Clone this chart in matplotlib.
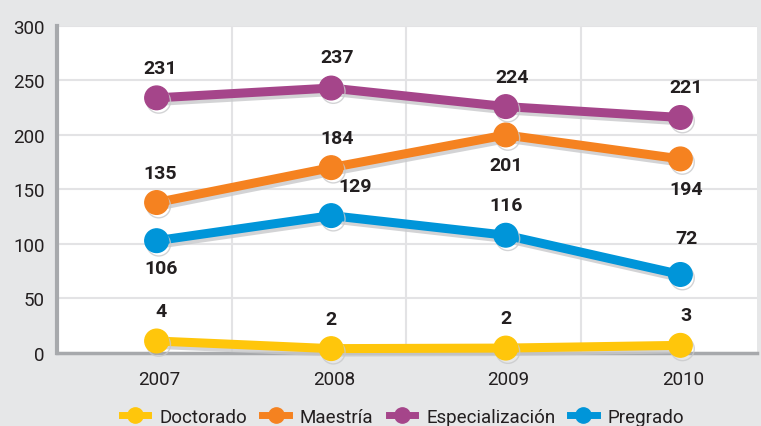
import matplotlib
matplotlib.use("Agg")
import matplotlib.pyplot as plt
import matplotlib.patheffects as pe
from matplotlib import font_manager
from matplotlib.lines import Line2D

names = {f.name for f in font_manager.fontManager.ttflist}
narrow = 'Liberation Sans Narrow' if 'Liberation Sans Narrow' in names else 'Roboto'
plt.rcParams['font.family'] = [narrow, 'DejaVu Sans']

years = ['2007', '2008', '2009', '2010']
series_names = ['Doctorado', 'Maestría', 'Especialización', 'Pregrado']
doctorado = [11, 4, 4.5, 7]
maestria = [138, 170, 200, 178]
especializacion = [234, 243, 226, 216]
pregrado = [103, 126, 108, 72]
doctorado_labels = ['4', '2', '2', '3']
maestria_labels = ['135', '184', '201', '194']
especializacion_labels = ['231', '237', '224', '221']
pregrado_labels = ['106', '129', '116', '72']
colors = ['#ffc60b', '#f58220', '#a5458a', '#0095d9']
yticks = [0, 50, 100, 150, 200, 250, 300]

# label offsets in pixels (dx, dy)
offsets = {
    'Doctorado': [(4, 30), (0, 30), (0, 30), (6, 30)],
    'Maestría': [(4, 30), (6, 30), (0, -30), (6, -30)],
    'Especialización': [(4, 30), (6, 31), (6, 30), (6, 30)],
    'Pregrado': [(4, -27), (24, 30), (0, 30), (6, 36)],
}

fig = plt.figure(figsize=(7.61, 4.27), dpi=100)
fig.patch.set_facecolor('#e6e7e8')
ax = fig.add_axes([0.075, 0.171, 0.92, 0.766])
ax.set_facecolor('white')

x = list(range(len(years)))
data = [doctorado, maestria, especializacion, pregrado]
labels = [doctorado_labels, maestria_labels, especializacion_labels, pregrado_labels]
shadow = [pe.SimpleLineShadow(offset=(1.5, -2.5), shadow_color='#c8c9cb', alpha=0.8), pe.Normal()]

for i in [3, 1, 2, 0]:
    ax.plot(x, data[i], color=colors[i], lw=6.5, marker='o', markersize=17,
            solid_capstyle='round', path_effects=shadow, zorder=3 + i * 0.1, clip_on=False)
    for j, (xv, yv) in enumerate(zip(x, data[i])):
        dx, dy = offsets[series_names[i]][j]
        ax.annotate(labels[i][j], (xv, yv), xytext=(dx, dy), textcoords='offset pixels',
                    ha='center', va='center', fontsize=14, fontweight='bold', color='#231f20', zorder=10)

ax.set_xlim(-0.57, 3.44)
ax.set_ylim(0, 300)
ax.set_yticks(yticks)
ax.set_yticklabels([str(v) for v in yticks], fontsize=13.5, color='#231f20')
ax.set_xticks([xv + 0.015 for xv in x])
ax.set_xticklabels(years, fontsize=13.5, color='#231f20')
ax.tick_params(length=0)
ax.tick_params(axis='y', pad=9)
ax.tick_params(axis='x', pad=12)
ax.set_xticks([0.43, 1.43, 2.43], minor=True)
ax.grid(True, axis='y', color='#e3e3e5', lw=1.5, zorder=0)
ax.grid(True, axis='x', which='minor', color='#e3e3e5', lw=1.5, zorder=0)
ax.tick_params(which='minor', length=0)
for s in ['top', 'right']:
    ax.spines[s].set_visible(False)
ax.spines['left'].set_color('#a7a9ac')
ax.spines['left'].set_linewidth(3)
ax.spines['bottom'].set_color('#a7a9ac')
ax.spines['bottom'].set_linewidth(2.5)
ax.set_axisbelow(True)

leg_handles = [Line2D([], [], color=colors[i], lw=5, marker='o', markersize=11) for i in range(4)]
fig.legend(leg_handles, series_names, loc='center', bbox_to_anchor=(0.53, 0.022), ncol=4,
           frameon=False, fontsize=13.5, handlelength=1.4, columnspacing=0.8, handletextpad=0.6,
           labelcolor='#231f20')

fig.savefig('out.png', dpi=100, facecolor=fig.get_facecolor())
